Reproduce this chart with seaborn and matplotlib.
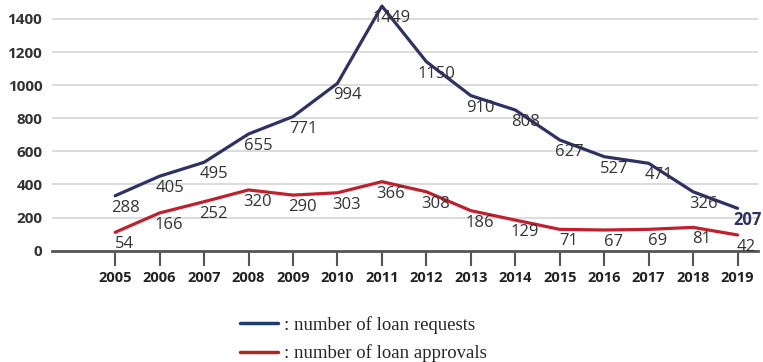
import matplotlib
matplotlib.use("Agg")
import matplotlib.pyplot as plt
import seaborn as sns
import pandas as pd
from matplotlib.lines import Line2D

# ---- data ----
years = [2005, 2006, 2007, 2008, 2009, 2010, 2011, 2012, 2013, 2014, 2015, 2016, 2017, 2018, 2019]
# line positions as drawn
requests_line = [332, 450, 534, 705, 810, 1011, 1478, 1142, 937, 850, 669, 568, 528, 356, 256]
approvals_line = [111, 228, 296, 367, 336, 350, 417, 356, 242, 185, 129, 125, 129, 141, 95]
# printed value labels
requests_labels = [288, 405, 495, 655, 771, 994, 1449, 1150, 910, 808, 627, 527, 471, 326, 207]
approvals_labels = [54, 166, 252, 320, 290, 303, 366, 308, 186, 129, 71, 67, 69, 81, 42]
series_names = [": number of loan requests", ": number of loan approvals"]
y_ticks = [0, 200, 400, 600, 800, 1000, 1200, 1400]

line_colors = ["#2e3163", "#c21f2c"]
legend_colors = ["#1d3c6e", "#a52a22"]

df = pd.DataFrame({
    "year": years * 2,
    "value": requests_line + approvals_line,
    "series": [series_names[0]] * len(years) + [series_names[1]] * len(years),
})

sns.set_theme(style="white")
plt.rcParams['font.family'] = ['Open Sans', 'DejaVu Sans']

fig = plt.figure(figsize=(7.63, 3.62), dpi=100)
ax = fig.add_axes([52 / 763, 1 - 250.7 / 362, (758 - 52) / 763, (250.7 - 2.4) / 362])

sns.lineplot(data=df, x="year", y="value", hue="series",
             palette=dict(zip(series_names, line_colors)),
             linewidth=2.3, legend=False, ax=ax)
for ln in ax.lines:
    ln.set_clip_on(False)

ax.set_xlim(2003.58, 2019.46)
ax.set_ylim(0, 1500)
ax.set_yticks(y_ticks)
ax.set_yticklabels([str(v) for v in y_ticks], fontweight="bold", fontsize=11, color="#333333")
ax.set_xticks(years)
ax.set_xticklabels([str(y) for y in years], fontweight="bold", fontsize=10.5, color="#222222")
ax.set_xlabel("")
ax.set_ylabel("")
ax.yaxis.grid(True, color="#d9d9d9", linewidth=1.3)
ax.set_axisbelow(True)
for s in ["left", "top", "right"]:
    ax.spines[s].set_visible(False)
ax.spines["bottom"].set_color("#555555")
ax.spines["bottom"].set_linewidth(2)
ax.tick_params(axis="y", length=0, pad=7)
ax.tick_params(axis="x", bottom=True, length=10.5, width=1.5, color="#555555", pad=4, direction="out")

for x, yv, lab in zip(years, requests_line, requests_labels):
    col = "#2e3163" if x == years[-1] else "#333333"
    wt = "bold" if x == years[-1] else "normal"
    ax.annotate(str(lab), (x, yv), xytext=(10, -12), textcoords="offset pixels",
                ha="center", va="center", fontsize=12, color=col, fontweight=wt,
                annotation_clip=False)
for x, yv, lab in zip(years, approvals_line, approvals_labels):
    ax.annotate(str(lab), (x, yv), xytext=(9, -12), textcoords="offset pixels",
                ha="center", va="center", fontsize=12, color="#333333",
                annotation_clip=False)

handles = [Line2D([0], [0], color=c, lw=2.5) for c in legend_colors]
fig.legend(handles, series_names, loc="upper left", bbox_to_anchor=(240 / 763, 1 - 316 / 362),
           frameon=False, prop={"family": "Liberation Serif", "size": 13.5},
           handlelength=2.0, handletextpad=0.35, labelspacing=0.55,
           borderpad=0, borderaxespad=0)

fig.savefig("out.png", dpi=100)
